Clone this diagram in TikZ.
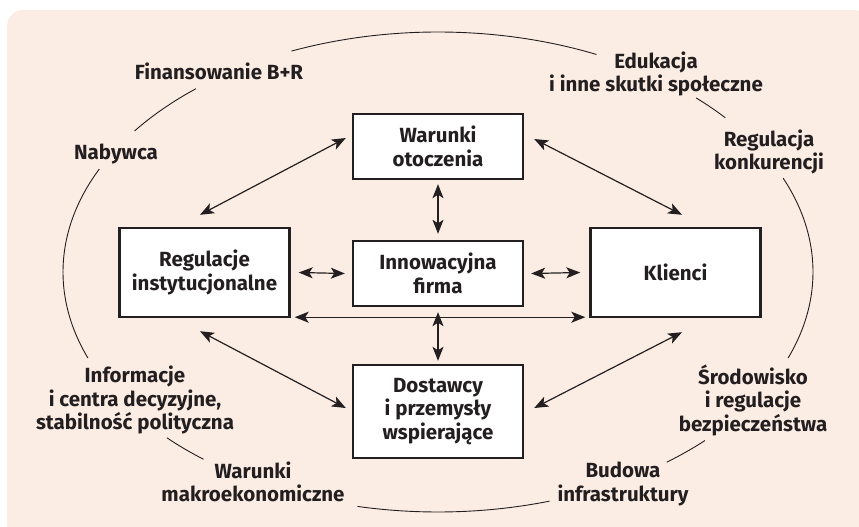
\documentclass[tikz,border=0pt]{standalone}
\usepackage{fontspec}
\setmainfont{Fira Sans}
\usetikzlibrary{arrows.meta}
\definecolor{tlo}{RGB}{252,237,228}
\definecolor{tusz}{RGB}{35,31,32}
\newcommand{\ramka}{2.4pt}
\newcommand{\rx}{375}
\newcommand{\ry}{240}

\begin{document}
\begin{tikzpicture}[x=1pt,y=-1pt,
    pole/.style={draw=tusz, line width=\ramka, fill=white, align=center,
      minimum width=170pt, inner sep=0pt, text=tusz,
      font=\bfseries\fontsize{20.5}{23.5}\selectfont},
    opis/.style={align=center, inner sep=0pt, text=tusz,
      font=\bfseries\fontsize{20.5}{23.5}\selectfont},
    strz/.style={{Stealth[length=14pt,width=11pt,inset=3.5pt]}-{Stealth[length=14pt,width=11pt,inset=3.5pt]},
      line width=1.2pt, draw=tusz},
    luk/.style={line width=0.9pt, draw=tusz}]

        \useasboundingbox (0,0) rectangle (859,527);
        \clip (0,0) rectangle (859,527);
        \fill[tlo, rounded corners=16pt] (7,10) rectangle (870,540);

        % boxes
        \node (war) at (438,146.5) [pole, minimum height=65pt] {Warunki\\otoczenia};
        \node (inn) at (438,273.5) [pole, minimum height=65pt] {Innowacyjna\\firma};
        \node (dos) at (438,411.5) [pole, minimum height=93pt] {Dostawcy\\i przemysły\\wspierające};
        \node (reg) at (204.5,272.5) [pole, minimum height=89pt] {Regulacje\\instytucjonalne};
        \node (kli) at (675.5,272.5) [pole, minimum height=89pt] {Klienci};

        \draw[strz] ([xshift=-4.5pt,yshift=12pt]reg.north) to ([xshift=-6pt,yshift=8.5pt]war.west);
        \draw[strz] ([xshift=10pt,yshift=7.5pt]war.east) to ([xshift=6.5pt,yshift=12pt]kli.north);
        \draw[strz] ([xshift=-4.5pt,yshift=-13pt]reg.south) to ([xshift=-6pt,yshift=3.5pt]dos.west);
        \draw[strz] ([xshift=10pt,yshift=3.5pt]dos.east) to ([xshift=6.5pt,yshift=-14pt]kli.south);
        \draw[strz] ([xshift=8pt]reg.east) to ([xshift=-7pt]inn.west);
        \draw[strz] ([xshift=7pt]inn.east) to ([xshift=-9pt]kli.west);
        \draw[strz] ([xshift=4pt,yshift=1pt]reg.south east) to ([xshift=-4pt,yshift=1pt]kli.south west);
        \draw[strz] ([yshift=-4pt]war.south) to ([yshift=6pt]inn.north);
        \draw[strz] ([yshift=-5pt]inn.south) to ([yshift=3pt]dos.north);

        % outer ring
        \node (finans) at (219,71.5) [opis] {Finansowanie B+R};
        \node (nabyw) at (116,153.5) [opis] {Nabywca};
        \node (eduk) at (656,74) [opis] {Edukacja\\i inne skutki społeczne};
        \node (konk) at (769,152) [opis] {Regulacja\\konkurencji};
        \node (info) at (135,400) [opis] {Informacje\\i centra decyzyjne,\\stabilność polityczna};
        \node (wmak) at (253,482) [opis] {Warunki\\makroekonomiczne};
        \node (srod) at (753,400) [opis] {Środowisko\\i regulacje\\bezpieczeństwa};
        \node (budowa) at (623,484) [opis] {Budowa\\infrastruktury};

        \coordinate (srodek) at (438,272);
        \draw[luk]
        (srodek) ++(247:\rx\space and \ry) arc[start angle=247, end angle=295, x radius=\rx, y radius=\ry]
        (srodek) ++(-46.5:\rx\space and \ry) arc[start angle=-46.5, end angle=-40, x radius=\rx, y radius=\ry]
        (srodek) ++(-23:\rx\space and \ry) arc[start angle=-23, end angle=21, x radius=\rx, y radius=\ry]
        (srodek) ++(44.6:\rx\space and \ry) arc[start angle=44.6, end angle=52.4, x radius=\rx, y radius=\ry]
        (srodek) ++(72.7:\rx\space and \ry) arc[start angle=72.7, end angle=102.4, x radius=\rx, y radius=\ry]
        (srodek) ++(128.7:\rx\space and \ry) arc[start angle=128.7, end angle=136.3, x radius=\rx, y radius=\ry]
        (srodek) ++(159:\rx\space and \ry) arc[start angle=159, end angle=205.4, x radius=\rx, y radius=\ry]
        (srodek) ++(216:\rx\space and \ry) arc[start angle=216, end angle=229.8, x radius=\rx, y radius=\ry];
       %\draw (srodek) ellipse [x radius=\rx, y radius=\ry];

\end{tikzpicture}
\end{document}
